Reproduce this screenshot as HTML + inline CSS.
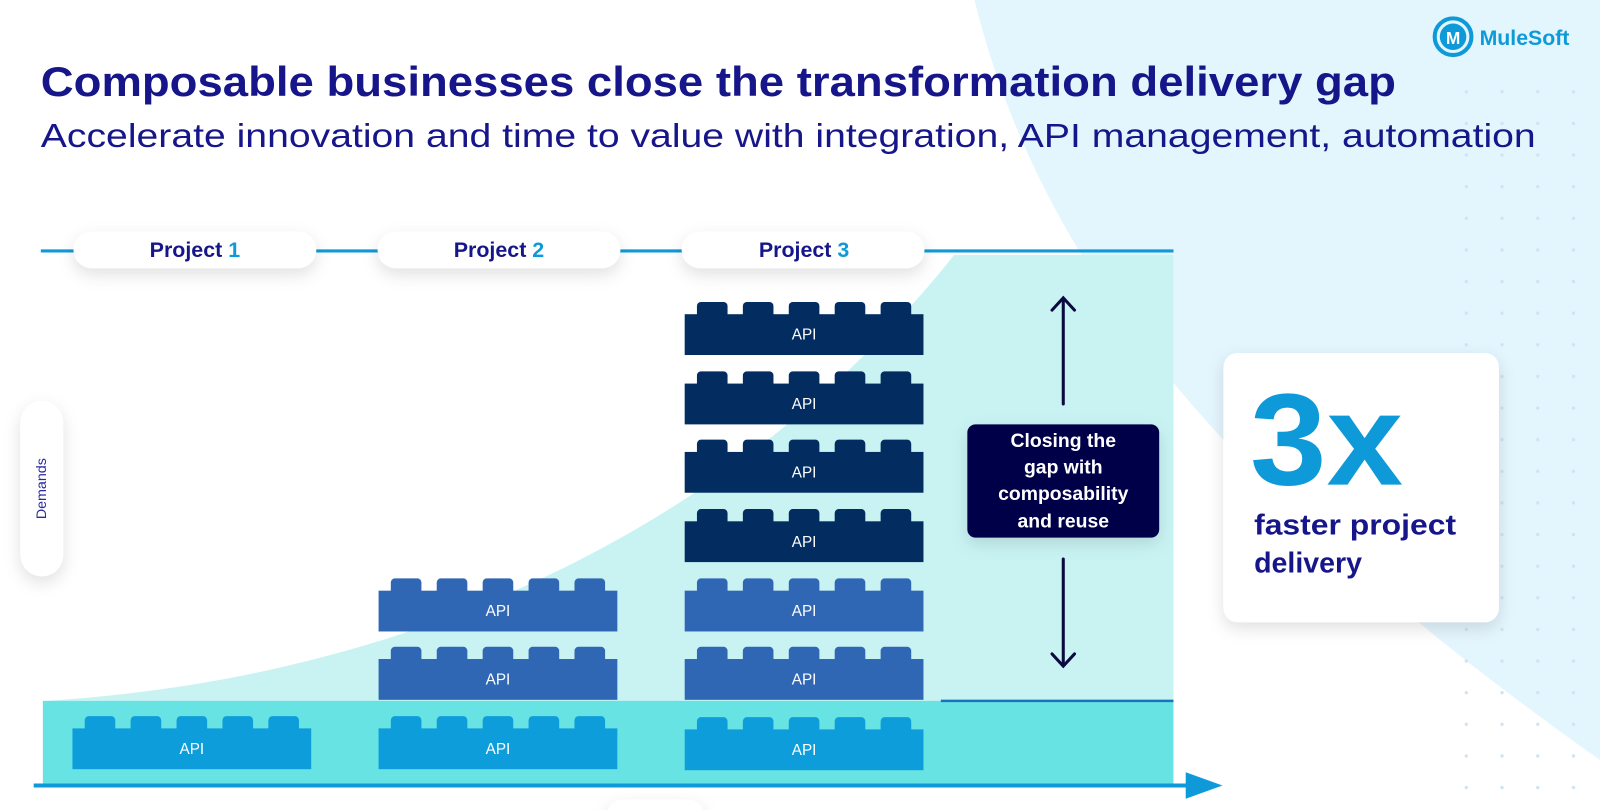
<!DOCTYPE html>
<html><head><meta charset="utf-8"><style>
html,body{margin:0;padding:0;background:#fff;}
svg{display:block;font-family:"Liberation Sans",sans-serif;}
</style></head><body>
<svg width="1600" height="810" viewBox="0 0 1568 794" preserveAspectRatio="none" xmlns="http://www.w3.org/2000/svg">
<defs>
<filter id="sh" x="-30%" y="-50%" width="160%" height="220%"><feDropShadow dx="0" dy="6" stdDeviation="8" flood-color="#000" flood-opacity="0.12"/></filter>
<pattern id="dots" x="1435" y="88" width="35" height="31" patternUnits="userSpaceOnUse"><circle cx="2" cy="2" r="1.6" fill="#cfe3f2"/></pattern>
<g id="studs">
<rect x="12" y="0" width="30" height="16" rx="4"/><rect x="57" y="0" width="30" height="16" rx="4"/><rect x="102" y="0" width="30" height="16" rx="4"/><rect x="147" y="0" width="30" height="16" rx="4"/><rect x="192" y="0" width="30" height="16" rx="4"/>
<rect x="0" y="12" width="234" height="40"/>
</g>
</defs>
<rect width="1568" height="794" fill="#fff"/>
<path d="M955,0 C1010,220 1150,450 1568,745 L1568,0 Z" fill="#e3f5fd"/>
<rect x="1420" y="80" width="148" height="700" fill="url(#dots)"/>
<path d="M955,0 C1010,220 1150,450 1568,745" fill="none" stroke="none"/>

<!-- title -->
<text x="40" y="94" font-size="41" font-weight="bold" fill="#16168a" textLength="1328" lengthAdjust="spacingAndGlyphs">Composable businesses close the transformation delivery gap</text>
<text x="40" y="144" font-size="33" fill="#16168a" textLength="1465" lengthAdjust="spacingAndGlyphs">Accelerate innovation and time to value with integration, API management, automation</text>

<!-- logo -->
<circle cx="1424" cy="36" r="18" fill="none" stroke="#0e9ad8" stroke-width="4"/>
<circle cx="1424" cy="36" r="13" fill="#0e9ad8"/>
<text x="1424" y="43" font-size="17" font-weight="bold" fill="#fff" text-anchor="middle">M</text>
<text x="1450" y="44" font-size="21" font-weight="bold" fill="#0e9ad8" textLength="88" lengthAdjust="spacingAndGlyphs">MuleSoft</text>

<!-- teal areas -->
<path d="M45,687 C400,665 720,520 935,250 L1150,250 L1150,687 Z" fill="#c9f3f3"/>
<rect x="42" y="687" width="1108" height="83" fill="#68e3e3"/>
<line x1="922" y1="687" x2="1150" y2="687" stroke="#1a73c0" stroke-width="2.5"/>

<!-- top line & pills -->
<line x1="40" y1="246" x2="1150" y2="246" stroke="#0e9ad8" stroke-width="3"/>
<g filter="url(#sh)" fill="#fff">
<rect x="72" y="227" width="238" height="36" rx="18"/>
<rect x="370" y="227" width="238" height="36" rx="18"/>
<rect x="668" y="227" width="238" height="36" rx="18"/>
<rect x="20" y="393" width="42" height="172" rx="21"/>
<rect x="1199" y="346" width="270" height="264" rx="14"/>
<rect x="595" y="784" width="95" height="30" rx="15"/>
</g>
<g font-size="21" font-weight="bold" text-anchor="middle" fill="#16168a">
<text x="191" y="252">Project <tspan fill="#0e9ad8">1</tspan></text>
<text x="489" y="252">Project <tspan fill="#0e9ad8">2</tspan></text>
<text x="788" y="252">Project <tspan fill="#0e9ad8">3</tspan></text>
</g>
<text transform="translate(45,479) rotate(-90)" font-size="14" fill="#2a2aa0" text-anchor="middle">Demands</text>

<!-- bricks -->
<g fill="#032d60">
<use href="#studs" x="671" y="296"/><use href="#studs" x="671" y="364"/><use href="#studs" x="671" y="431"/><use href="#studs" x="671" y="499"/>
</g>
<g fill="#3067b5">
<use href="#studs" x="671" y="567"/><use href="#studs" x="671" y="634"/>
<use href="#studs" x="371" y="567"/><use href="#studs" x="371" y="634"/>
</g>
<g fill="#0d9dda">
<use href="#studs" x="71" y="702"/><use href="#studs" x="371" y="702"/><use href="#studs" x="671" y="703"/>
</g>
<g font-size="15" fill="#fff" text-anchor="middle">
<text x="788" y="333">API</text><text x="788" y="401">API</text><text x="788" y="468">API</text><text x="788" y="536">API</text><text x="788" y="604">API</text><text x="788" y="671">API</text><text x="788" y="740">API</text>
<text x="488" y="604">API</text><text x="488" y="671">API</text><text x="488" y="739">API</text>
<text x="188" y="739">API</text>
</g>

<!-- axis arrow -->
<line x1="33" y1="770" x2="1168" y2="770" stroke="#0e9ad8" stroke-width="4"/>
<polygon points="1162,757 1198,770 1162,783" fill="#0e9ad8"/>

<!-- gap arrows -->
<g stroke="#0a0a40" stroke-width="3" fill="none" stroke-linecap="round">
<line x1="1042" y1="293" x2="1042" y2="396"/><polyline points="1031,304 1042,292 1053,304"/>
<line x1="1042" y1="548" x2="1042" y2="652"/><polyline points="1031,641 1042,653 1053,641"/>
</g>
<rect x="948" y="416" width="188" height="111" rx="8" fill="#03034a" filter="url(#sh)"/>
<g font-size="19" font-weight="bold" fill="#fff" text-anchor="middle">
<text x="1042" y="438">Closing the</text>
<text x="1042" y="464">gap with</text>
<text x="1042" y="490">composability</text>
<text x="1042" y="517">and reuse</text>
</g>

<!-- 3x card -->
<text x="1225" y="475" font-size="128" font-weight="bold" fill="#0e9ad8" textLength="150" lengthAdjust="spacingAndGlyphs">3x</text>
<text x="1229" y="524" font-size="28" font-weight="bold" fill="#16168a" textLength="198" lengthAdjust="spacingAndGlyphs">faster project</text>
<text x="1229" y="561" font-size="28" font-weight="bold" fill="#16168a">delivery</text>
</svg>
</body></html>
